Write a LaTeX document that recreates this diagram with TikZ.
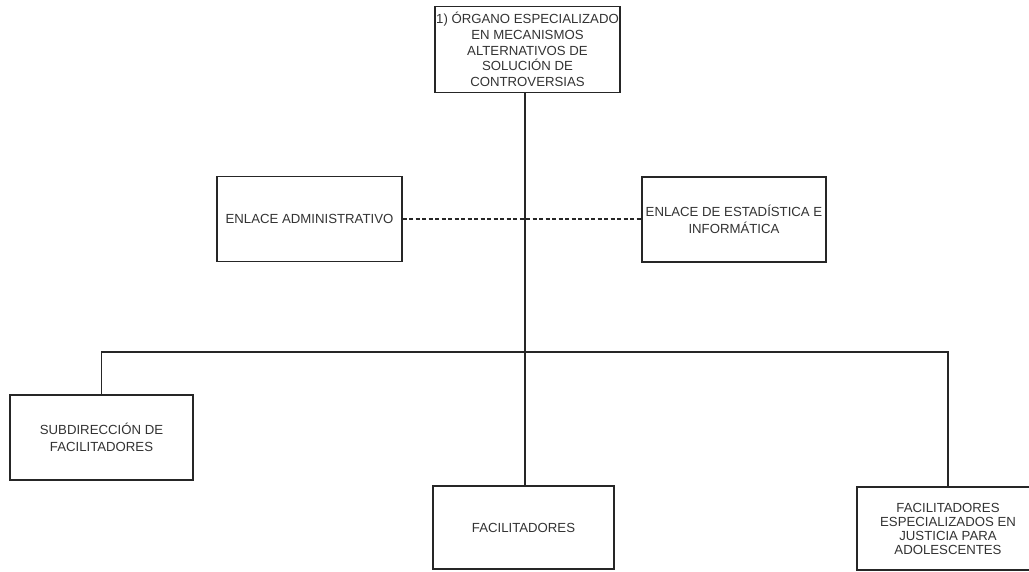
\documentclass[tikz,border=0pt]{standalone}
\usepackage{fontspec}
\setmainfont{Liberation Sans}
\begin{document}
\begin{tikzpicture}[x=1pt,y=-1pt,
  box/.style={draw=black!85,line width=1.1pt,rectangle,inner sep=0pt,align=center,
    text=black!80,font=\fontsize{13.2}{14}\selectfont},
  topfont/.style={font=\fontsize{13.2}{15.8}\selectfont},
  wide/.style={font=\fontsize{13.2}{16.5}\selectfont},
  conn/.style={draw=black!85,line width=1.1pt},
  dashconn/.style={conn,dash pattern=on 4pt off 2.5pt}]
\useasboundingbox (0,0) rectangle (1029,571);
\fill[white] (0,0) rectangle (1029,571);
\begin{scope}
\clip (0,0) rectangle (1029,571);
\node[box,topfont,minimum width=185pt,minimum height=86pt] (top) at (527.5,49.5)
  {1) ÓRGANO ESPECIALIZADO\\EN MECANISMOS\\ALTERNATIVOS DE\\SOLUCIÓN DE\\CONTROVERSIAS};
\node[box,minimum width=185pt,minimum height=85pt] (admin) at (309.5,219)
  {ENLACE ADMINISTRATIVO};
\node[box,wide,minimum width=184pt,minimum height=85pt] (estad) at (734,219.5)
  {ENLACE DE ESTADÍSTICA E\\INFORMÁTICA};
\node[box,wide,minimum width=183pt,minimum height=85pt] (subdir) at (101.5,437.5)
  {SUBDIRECCIÓN DE\\FACILITADORES};
\node[box,minimum width=181pt,minimum height=83pt] (facil) at (523.5,527.5)
  {FACILITADORES};
\node[box,minimum width=182pt,minimum height=83pt] (spec) at (948,528.5)
  {FACILITADORES\\ESPECIALIZADOS EN\\JUSTICIA PARA\\ADOLESCENTES};
\coordinate (bus) at (525,352);
\draw[conn] (top.south -| bus) -- (bus |- facil.north);
\draw[conn] (subdir.north) |- (spec.north |- bus) -- (spec.north);
\draw[dashconn] (admin.east) -- (admin.east -| estad.west);
\end{scope}
\end{tikzpicture}
\end{document}
